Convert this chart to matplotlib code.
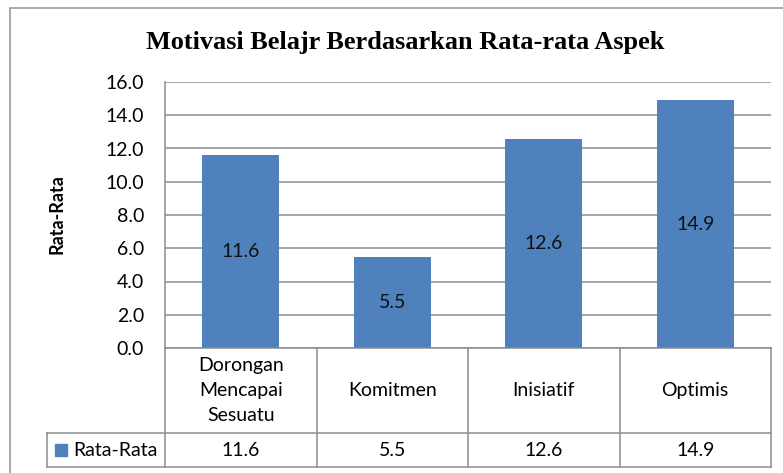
import numpy as np
import matplotlib
matplotlib.use("Agg")
from matplotlib import pyplot as plt
from matplotlib.patches import Rectangle

# data
categories = ["Dorongan\nMencapai\nSesuatu", "Komitmen", "Inisiatif", "Optimis"]
values = [11.6, 5.5, 12.6, 14.9]
series_name = "Rata-Rata"
y_ticks = [0, 2, 4, 6, 8, 10, 12, 14, 16]

BAR_COLOR = "#4F81BD"
GRID_COLOR = "#8C8C8C"
W, H = 783, 473
FS = 14

plt.rcParams["font.family"] = ["Lato", "DejaVu Sans"]

fig = plt.figure(figsize=(W / 100, H / 100), dpi=100)


def px_box(x0, y0, x1, y1):
  """pixel box (top-left origin) -> figure fraction [l, b, w, h]"""
  return [x0 / W, 1 - y1 / H, (x1 - x0) / W, (y1 - y0) / H]


# outer chart frame (runs past the crop on right/bottom)
fig.patches.append(
  Rectangle((10 / W, -0.1), 1.2, 1 - 8 / H + 0.1, transform=fig.transFigure,
            fill=False, edgecolor="#9A9A9A", lw=1.2)
)

ax = fig.add_axes(px_box(165, 82, 771, 348))
x = np.arange(len(categories))
bars = ax.bar(x, values, width=0.51, color=BAR_COLOR, zorder=3)
ax.set_xlim(-0.5, len(categories) - 0.5)
ax.set_ylim(0, 16)
ax.set_yticks(y_ticks)
ax.set_yticklabels([f"{v:.1f}" for v in y_ticks], fontsize=FS)
ax.tick_params(axis="y", length=0, pad=15)
ax.set_xticks([])
ax.grid(axis="y", color=GRID_COLOR, lw=1.1, zorder=0)
for side in ["top", "right", "bottom"]:
  ax.spines[side].set_visible(False)
ax.spines["left"].set_color(GRID_COLOR)
ax.spines["left"].set_linewidth(1.1)

fig.text(57 / W, 1 - 214 / H, series_name, rotation=90, ha="center",
         va="center", fontsize=13, fontweight="bold")

for b, v in zip(bars, values):
  ax.text(b.get_x() + b.get_width() / 2, v / 2, f"{v:.1f}",
          ha="center", va="center", fontsize=FS, color="#111111", zorder=4)

fig.text(405 / W, 1 - 42 / H, "Motivasi Belajr Berdasarkan Rata-rata Aspek",
         ha="center", va="center", fontsize=18.9, fontweight="bold",
         family=["Liberation Serif", "DejaVu Serif"])

# data table under the axis
tab = fig.add_axes(px_box(165, 348, 771, 467), sharex=ax)
tab.set_ylim(0, 1)
tab.axis("off")
row_split = 34 / 119
col_w = 151.5
left_edge = -0.5 - 118 / col_w
line_kw = dict(color=GRID_COLOR, lw=1.1, clip_on=False)

n = len(categories)
tab.plot([-0.5, n - 0.5], [1, 1], **line_kw)
tab.plot([left_edge, n - 0.5], [row_split, row_split], **line_kw)
tab.plot([left_edge, n - 0.5], [0, 0], **line_kw)
tab.plot([left_edge, left_edge], [0, row_split], **line_kw)
for i in range(n + 1):
  tab.plot([i - 0.5, i - 0.5], [0, 1], **line_kw)

for i, (cat, v) in enumerate(zip(categories, values)):
  tab.text(i, (1 + row_split) / 2, cat, ha="center", va="center",
           fontsize=FS, linespacing=1.55)
  tab.text(i, row_split / 2, f"{v:.1f}", ha="center", va="center", fontsize=FS)

# legend key in the table's first column
tab.add_patch(Rectangle((left_edge + 8 / col_w, row_split / 2 - 6 / 119),
                        12 / col_w, 12 / 119, color=BAR_COLOR, clip_on=False))
tab.text(left_edge + 26 / col_w, row_split / 2, series_name, ha="left",
         va="center", fontsize=FS)

fig.savefig("out.png", dpi=100)
